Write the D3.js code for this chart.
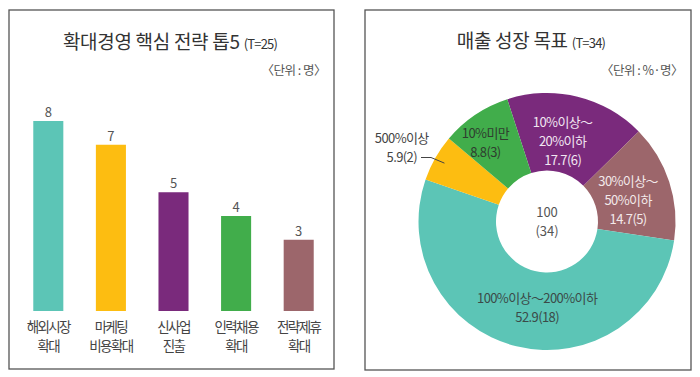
<!DOCTYPE html>
<html>
<head>
<meta charset="utf-8">
<script src="https://cdn.jsdelivr.net/npm/d3@7"></script>
<style>
  body { margin: 0; background: #fff; }
  text { font-family: "Noto Sans CJK KR", "Noto Sans", sans-serif; }
</style>
</head>
<body>
<svg id="vis" width="700" height="377"></svg>
<script>
// left chart: top 5 strategies
var barCats = [['해외시장', '확대'], ['마케팅', '비용확대'], ['신사업', '진출'], ['인력채용', '확대'], ['전략제휴', '확대']];
var barValues = [8, 7, 5, 4, 3];
var barColors = ['#5cc5b6', '#fdbd11', '#7a2a7c', '#41ad4b', '#9c666b'];

// right chart: sales growth target
var pieLabels = [['10%이상～', '20%이하'], ['30%이상～', '50%이하'], ['100%이상～200%이하'], ['500%이상'], ['10%미만']];
var piePercents = [17.7, 14.7, 52.9, 5.9, 8.8];
var pieCounts = [6, 5, 18, 2, 3];
var pieColors = ['#7a2a7c', '#9c666b', '#5cc5b6', '#fdbd11', '#41ad4b'];
var pieTextColors = ['#f1e6f1', '#f3e9ea', '#3b4a48', '#444', '#2f3d2f'];

var vis = d3.select('#vis');

// panel frames
vis.append('rect').attr('x', 9).attr('y', 10).attr('width', 325).attr('height', 359)
    .attr('fill', 'none').attr('stroke', '#555').attr('stroke-width', 1.3);
vis.append('rect').attr('x', 365).attr('y', 10).attr('width', 326).attr('height', 360)
    .attr('fill', 'none').attr('stroke', '#555').attr('stroke-width', 1.3);

function title(x, y, main, sub){
    var t = vis.append('text').attr('x', x).attr('y', y).attr('text-anchor', 'middle').attr('fill', '#333');
    t.append('tspan').attr('font-size', 19).attr('letter-spacing', -0.3).text(main);
    t.append('tspan').attr('font-size', 13).attr('letter-spacing', -0.8).attr('dx', 4).text(sub);
}
title(170, 49, '확대경영 핵심 전략 톱5', '(T=25)');
title(531, 48, '매출 성장 목표', '(T=34)');

vis.append('text').attr('x', 326).attr('y', 75).attr('text-anchor', 'end')
    .attr('font-size', 12.5).attr('fill', '#555').attr('letter-spacing', -0.5).text('〈단위 : 명〉');
vis.append('text').attr('x', 683).attr('y', 75).attr('text-anchor', 'end')
    .attr('font-size', 12.5).attr('fill', '#555').attr('letter-spacing', -0.5).text('〈단위 : %·명〉');

// bars
var MARGINS = {left: 17, right: 330, top: 121, bottom: 311};
var xRange = d3.scaleBand()
    .domain(d3.range(barValues.length))
    .range([MARGINS.left, MARGINS.right])
    .paddingInner(0.52)
    .paddingOuter(0.26);
var yRange = d3.scaleLinear()
    .domain([0, 8])
    .range([MARGINS.bottom, MARGINS.top]);

var bars = vis.append('g');
bars.selectAll('rect').data(barValues).enter().append('rect')
    .attr('x', function(d, i){ return xRange(i); })
    .attr('y', function(d){ return yRange(d); })
    .attr('width', xRange.bandwidth())
    .attr('height', function(d){ return yRange(0) - yRange(d); })
    .attr('fill', function(d, i){ return barColors[i]; });

bars.selectAll('text.val').data(barValues).enter().append('text')
    .attr('class', 'val')
    .attr('x', function(d, i){ return xRange(i) + xRange.bandwidth() / 2; })
    .attr('y', function(d){ return yRange(d) - 4; })
    .attr('text-anchor', 'middle').attr('font-size', 13).attr('fill', '#555')
    .attr('font-family', '"Roboto Condensed", "Liberation Sans Narrow", "DejaVu Sans Condensed", sans-serif')
    .text(function(d){ return d; });

barCats.forEach(function(lines, i){
    lines.forEach(function(line, j){
        vis.append('text')
            .attr('x', xRange(i) + xRange.bandwidth() / 2)
            .attr('y', 332 + j * 18.5)
            .attr('text-anchor', 'middle').attr('font-size', 13.5).attr('letter-spacing', -1.6)
            .attr('fill', '#444').text(line);
    });
});

// donut
var cx = 547, cy = 221.5;
var start = -18 * Math.PI / 180;
var pie = d3.pie().sort(null).value(function(d){ return d; })
    .startAngle(start).endAngle(start + 2 * Math.PI);
var arcs = pie(pieCounts);
var arc = d3.arc().innerRadius(51).outerRadius(128.5);
var g = vis.append('g').attr('transform', 'translate(' + cx + ',' + cy + ')');
g.selectAll('path').data(arcs).enter().append('path')
    .attr('d', arc)
    .attr('fill', function(d, i){ return pieColors[i]; });

// label placement per slice: radius and angle (degrees) of the text block centre
var labelPos = [
    {r: 82, a: 11},
    {r: 84, a: 75},
    {r: 87, a: 186.5},
    {r: 163, a: 297},
    {r: 100, a: 322}
];
var lineH = 19;
arcs.forEach(function(a, i){
    var lines = pieLabels[i].concat([piePercents[i].toFixed(1) + '(' + pieCounts[i] + ')']);
    var ang = labelPos[i].a * Math.PI / 180;
    var cxL = Math.sin(ang) * labelPos[i].r;
    var cyL = -Math.cos(ang) * labelPos[i].r;
    var y0 = cyL - (lines.length - 1) * lineH / 2;
    lines.forEach(function(line, j){
        g.append('text')
            .attr('x', cxL).attr('y', y0 + j * lineH + 5)
            .attr('text-anchor', 'middle')
            .attr('font-size', 13).attr('letter-spacing', -0.6)
            .attr('fill', pieTextColors[i]).text(line);
    });
});

// leader line for 500% slice
var ya = arcs[3];
var ymid = (ya.startAngle + ya.endAngle) / 2;
g.append('path')
    .attr('d', d3.line()([[-126, -64], [-116, -64], [Math.sin(ymid) * 118, -Math.cos(ymid) * 118]]))
    .attr('fill', 'none').attr('stroke', '#444').attr('stroke-width', 1);

// centre total
['100', '(' + d3.sum(pieCounts) + ')'].forEach(function(line, j){
    g.append('text').attr('x', 0).attr('y', -5 + j * 19)
        .attr('text-anchor', 'middle').attr('font-size', 13)
        .attr('fill', '#555').text(line);
});
</script>
</body>
</html>
